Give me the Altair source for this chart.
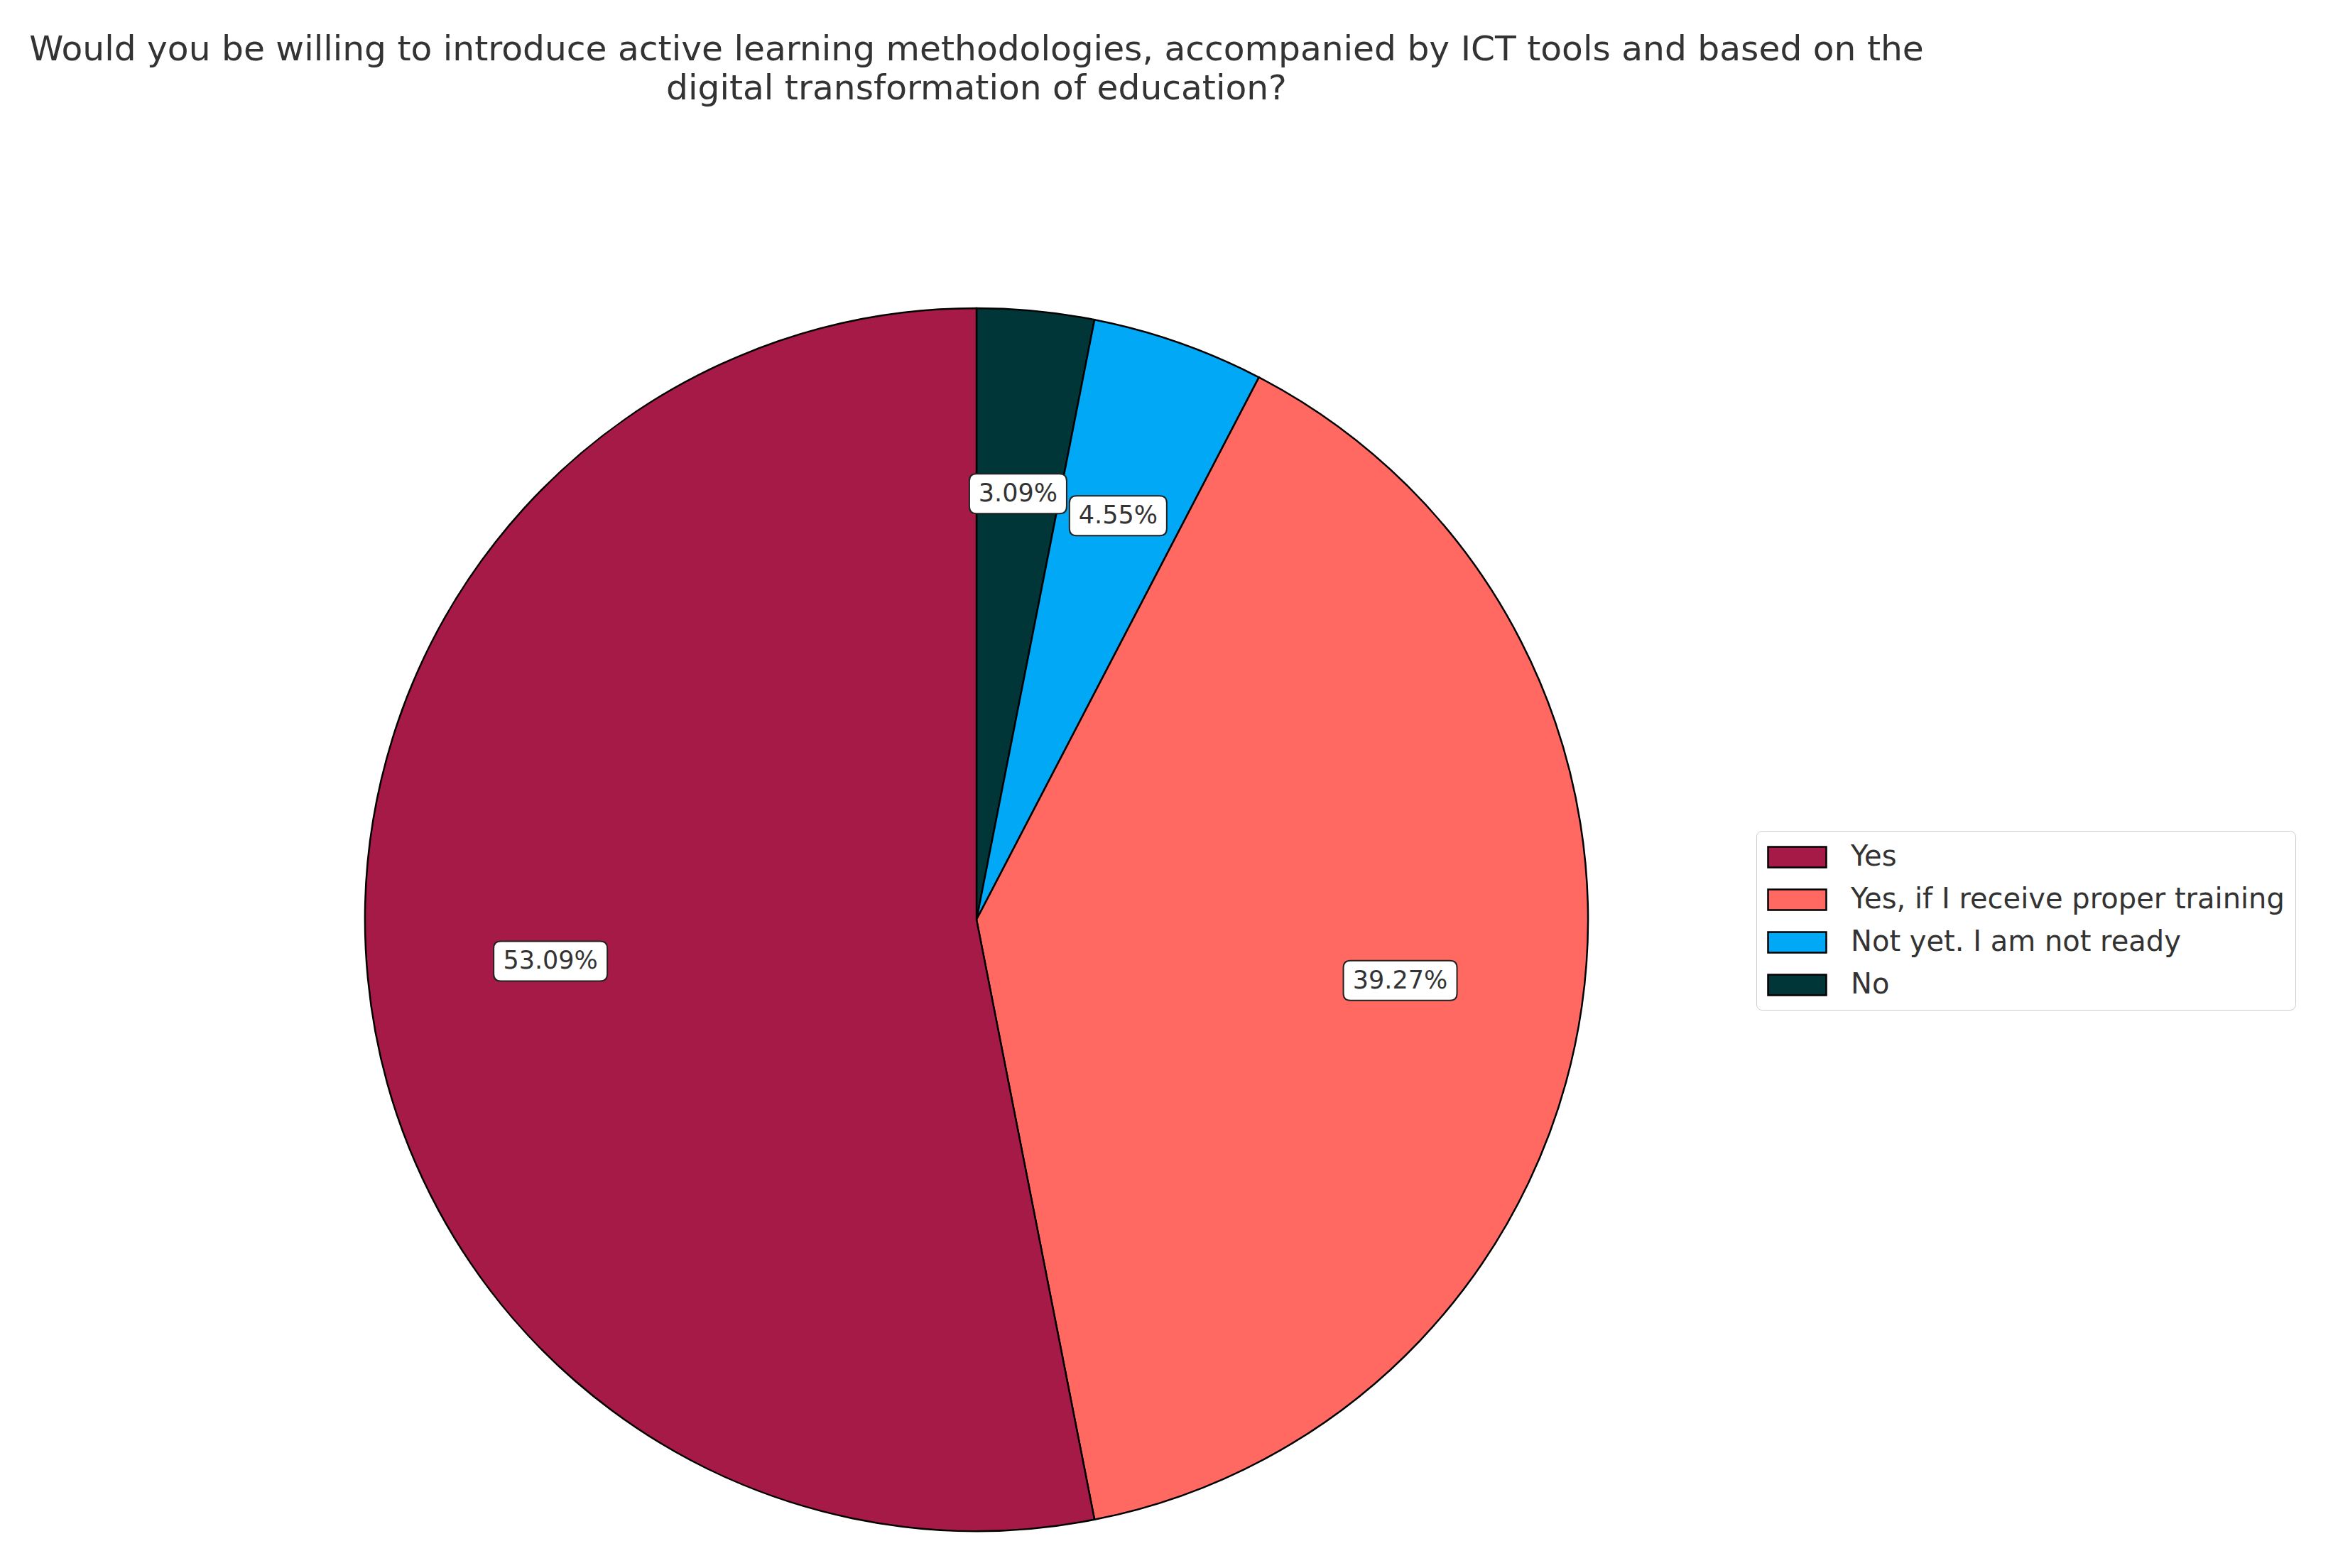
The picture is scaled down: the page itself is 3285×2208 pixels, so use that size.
import altair as alt
import pandas as pd

# ---- data (clockwise from 12 o'clock) ----
categories = ["No", "Not yet. I am not ready", "Yes, if I receive proper training", "Yes"]
values = [3.09, 4.55, 39.27, 53.09]
labels = ["3.09%", "4.55%", "39.27%", "53.09%"]
order_idx = [0, 1, 2, 3]
legend_order = ["Yes", "Yes, if I receive proper training", "Not yet. I am not ready", "No"]
colors = ["#A61A48", "#FF6961", "#00A8F5", "#003638"]
title_lines = [
    "Would you be willing to introduce active learning methodologies, accompanied by ICT tools and based on the",
    "digital transformation of education?",
]

df = pd.DataFrame({"cat": categories, "value": values, "label": labels, "idx": order_idx})

# ---- layout ----
W, H = 3260, 2035
PAD_TOP = 155
CX, CY = 1367, 1132   # pie centre in plot coordinates
R = 861
PCT = 0.7
FONT = "DejaVu Sans"
TXT = "#333333"


def rrect(w, h, r):
    k = w / 2.0
    hh = h / 2.0 / k
    rr = r / k
    return (f"M{-1+rr},{-hh}L{1-rr},{-hh}Q1,{-hh} 1,{-hh+rr}L1,{hh-rr}Q1,{hh} {1-rr},{hh}"
            f"L{-1+rr},{hh}Q-1,{hh} -1,{hh-rr}L-1,{-hh+rr}Q-1,{-hh} {-1+rr},{-hh}Z")


# legend swatch: 82 x 29 px, drawn with a unit of 20.5 px so its layout size stays small
SW_K = 20.5
sw_h = 14.5 / SW_K
legend_swatch = f"M-1,{-sw_h}L3,{-sw_h}L3,{sw_h}L-1,{sw_h}Z"

base = alt.Chart(df)

pie = base.mark_arc(radius=R, stroke="black", strokeWidth=2.5).encode(
    theta=alt.Theta("value:Q", stack=True),
    color=alt.Color(
        "cat:N",
        scale=alt.Scale(domain=legend_order, range=colors),
        legend=alt.Legend(
            title=None,
            orient="none",
            legendX=2465,
            legendY=1007,
            labelFont=FONT,
            labelFontSize=40,
            labelColor=TXT,
            labelLimit=0,
            labelOffset=74,
            symbolType=legend_swatch,
            symbolSize=(2 * SW_K) ** 2,
            symbolStrokeColor="black",
            symbolStrokeWidth=2.5,
            symbolOpacity=1,
            rowPadding=18,
            padding=15,
            strokeColor="#cccccc",
            fillColor="white",
            cornerRadius=8,
        ),
    ),
    order=alt.Order("idx:Q"),
    x=alt.value(CX),
    y=alt.value(CY),
)

pos = (
    base.transform_joinaggregate(total="sum(value)")
    .transform_window(cum="sum(value)", sort=[alt.SortField("idx")], frame=[None, 0])
    .transform_calculate(
        mid="(datum.cum - datum.value / 2) / datum.total * 2 * PI",
        lx=f"{PCT} * sin(datum.mid)",
        ly=f"{PCT} * cos(datum.mid)",
        nch="length(datum.label)",
    )
)

xenc = alt.X("lx:Q", scale=alt.Scale(domain=[-CX / R, (W - CX) / R], nice=False, zero=False), axis=None)
yenc = alt.Y("ly:Q", scale=alt.Scale(domain=[-(H - CY) / R, CY / R], nice=False, zero=False), axis=None)

box_narrow = pos.transform_filter("datum.nch <= 5").mark_point(
    shape=rrect(137, 56, 10), size=137 * 137, filled=True, fill="white",
    stroke="#222222", strokeWidth=2, opacity=1,
).encode(x=xenc, y=yenc)

box_wide = pos.transform_filter("datum.nch > 5").mark_point(
    shape=rrect(160, 56, 10), size=160 * 160, filled=True, fill="white",
    stroke="#222222", strokeWidth=2, opacity=1,
).encode(x=xenc, y=yenc)

text = pos.mark_text(font=FONT, fontSize=35, color=TXT, baseline="middle", align="center").encode(
    x=xenc, y=yenc, text="label:N"
)

chart = (
    alt.layer(pie, box_narrow, box_wide, text)
    .properties(
        width=W,
        height=H,
        autosize=alt.AutoSizeParams(type="none"),
        padding={"top": PAD_TOP, "left": 0, "right": 0, "bottom": 0},
        title=alt.TitleParams(
            text=title_lines,
            font=FONT,
            fontSize=48.7,
            fontWeight="normal",
            color=TXT,
            anchor="middle",
            frame="group",
            dx=CX - W / 2,
            lineHeight=55,
            offset=12,
        ),
    )
    .configure_view(stroke=None)
)

chart.save("out.html", embed_options={"renderer": "svg", "actions": False})
